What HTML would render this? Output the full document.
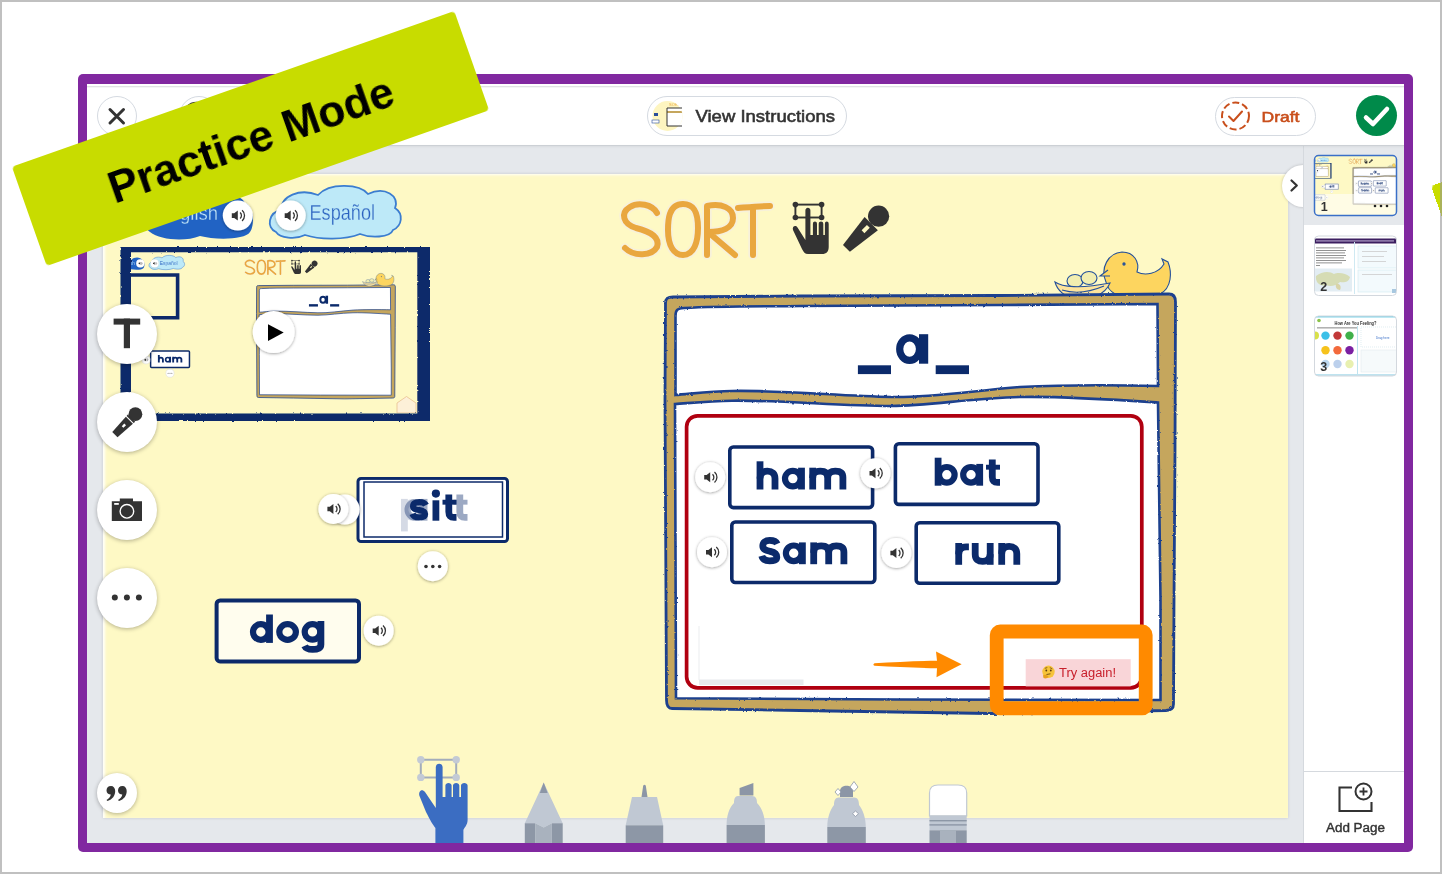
<!DOCTYPE html>
<html><head><meta charset="utf-8">
<style>
*{box-sizing:border-box;margin:0;padding:0}
html,body{width:1442px;height:874px;overflow:hidden;background:#fff;font-family:"Liberation Sans",sans-serif}
#outer{position:absolute;left:0;top:0;width:1442px;height:874px;border:2px solid rgba(150,150,150,0.6);z-index:10}
#frame{position:absolute;left:78px;top:74.3px;width:1335px;height:777.7px;background:#8128a0;border-radius:5px}
#header{position:absolute;left:87px;top:84px;width:1317px;height:61px;background:#fff;box-shadow:inset 0 2.2px 0 #fff, inset 0 3.2px 0 #d7d9db}
#work{position:absolute;left:87px;top:145px;width:1216px;height:698px;background:#e5e8ec}
#side{position:absolute;left:1303px;top:145px;width:101px;height:698px;background:#fff;border-left:1px solid #d5d9de}
#selbg{position:absolute;left:1304px;top:145px;width:100px;height:80px;background:#e5e8ec}
#addline{position:absolute;left:1304px;top:771px;width:100px;height:1px;background:#d5d9de}
#canvas{position:absolute;left:103px;top:174px;width:1185px;height:644px;background:#fef9c5;box-shadow:0 0 3px rgba(0,0,0,0.14), inset 2px 1px 3px rgba(255,255,255,0.95)}
.circ{position:absolute;border-radius:50%;background:#fff}
.pill{position:absolute;border:1px solid #d5dae1;border-radius:20px;background:#fff}
.tool{position:absolute;width:60px;height:60px;border-radius:50%;background:#fff;box-shadow:0 1px 4px rgba(0,0,0,0.3)}
#banner{position:absolute;left:16.3px;top:86.4px;width:469px;height:105px;background:#c8dc00;transform:rotate(-19.4deg);border-radius:4px;color:#000;font-weight:bold;font-size:44.2px;line-height:107px;text-align:center;will-change:transform}
svg{position:absolute;left:0;top:0;will-change:transform}
.thumb{position:absolute;width:82px;height:60px;border-radius:4px;overflow:hidden;background:#fff;border:1px solid #cfd5dc}
</style></head><body>
<div id="outer"></div>
<div id="frame"></div>
<div id="header"></div>
<div id="work"></div>
<div id="canvas"></div>
<div class="circ" style="left:1282px;top:165px;width:42px;height:42px;box-shadow:0 0 3px rgba(0,0,0,0.22)"></div>
<div id="side"></div>
<div id="selbg"></div>
<div id="addline"></div>
<div style="position:absolute;left:87px;top:144.5px;width:1317px;height:1.2px;background:#ccd0d5;box-shadow:0 1px 2px rgba(0,0,0,0.08)"></div>

<!-- header buttons -->
<div class="circ" style="left:97px;top:96px;width:40px;height:40px;border:1px solid #d5dae1"></div>
<div class="circ" style="left:179px;top:96px;width:40px;height:40px;border:1px solid #d5dae1"></div>
<div class="pill" style="left:647px;top:96px;width:200px;height:40px"></div>
<div class="pill" style="left:1215px;top:96.5px;width:101px;height:39px"></div>
<div class="circ" style="left:1356px;top:95px;width:41px;height:41px;background:#008a4a"></div>

<svg width="1442" height="874" viewBox="0 0 1442 874" id="hdr">
  <!-- X -->
  <path d="M110,109.5 L123.5,123 M123.5,109.5 L110,123" stroke="#333" stroke-width="3" stroke-linecap="round"/>
  <circle cx="196.5" cy="116.3" r="13.2" fill="none" stroke="#333" stroke-width="2.6"/>
  <!-- view instructions icon -->
  <circle cx="667.5" cy="116" r="15" fill="#fdf5c0"/>
  <clipPath id="vic"><circle cx="667.5" cy="116" r="15"/></clipPath><g clip-path="url(#vic)"><rect x="667" y="108" width="20" height="18" fill="#fff"/><rect x="667" y="111" width="20" height="2" fill="#c5a65d"/><text x="669" y="106" font-family="Liberation Sans" font-size="4" fill="#e9a73f">SORT</text></g><path d="M682,108 L667,108 L667,126 L682,126" stroke="#333" stroke-width="1" fill="none"/>
  <rect x="654" y="113" width="4" height="3" fill="#2a4d9b"/>
  <rect x="652" y="120" width="7" height="3" fill="#fff" stroke="#2a4d9b" stroke-width="0.6"/>
  <text x="695.5" y="121.5" font-family="Liberation Sans" font-size="16.5" fill="#333" stroke="#333" stroke-width="0.55" textLength="139.5" lengthAdjust="spacingAndGlyphs">View Instructions</text>
  <!-- draft -->
  <circle cx="1235.5" cy="116" r="13.5" fill="none" stroke="#c94f1c" stroke-width="2" stroke-dasharray="7 3"/>
  <path d="M1229,116.5 L1233.5,121 L1242,111.5" fill="none" stroke="#c94f1c" stroke-width="2" stroke-linecap="round" stroke-linejoin="round"/>
  <text x="1261.5" y="121.5" font-family="Liberation Sans" font-size="15.5" fill="#c94f1c" stroke="#c94f1c" stroke-width="0.6" textLength="38" lengthAdjust="spacingAndGlyphs">Draft</text>
  <!-- green check -->
  <path d="M1366,117.5 L1373,124 L1387,109" fill="none" stroke="#fff" stroke-width="4.5" stroke-linecap="round" stroke-linejoin="round"/>
  <!-- chevron -->
  <path d="M1291.5,180.5 L1296.8,185.5 L1291.5,190.5" fill="none" stroke="#333" stroke-width="2.2" stroke-linecap="round" stroke-linejoin="round"/>
  <!-- add page -->
  <path d="M1352,787.5 L1339.5,787.5 L1339.5,811 L1371.5,811 L1371.5,802" fill="none" stroke="#333" stroke-width="2.1"/>
  <circle cx="1363.5" cy="791.5" r="8" fill="none" stroke="#333" stroke-width="2"/>
  <path d="M1363.5,787.5 L1363.5,795.5 M1359.5,791.5 L1367.5,791.5" stroke="#333" stroke-width="1.8"/>
  <text x="1326" y="832" font-family="Liberation Sans" font-size="12.5" fill="#333" stroke="#333" stroke-width="0.4" textLength="59" lengthAdjust="spacingAndGlyphs">Add Page</text>
</svg>

<!-- thumbnails -->
<svg width="1442" height="874" viewBox="0 0 1442 874" id="thumbs">
  <defs>
    <clipPath id="c1"><rect x="1314.5" y="155.5" width="82" height="60" rx="4"/></clipPath>
    <clipPath id="c2"><rect x="1314.5" y="236" width="82" height="59.5" rx="4"/></clipPath>
    <clipPath id="c3"><rect x="1314.5" y="316" width="82" height="60" rx="4"/></clipPath>
  </defs>
  <g clip-path="url(#c1)">
    <rect x="1314" y="155" width="83" height="61" fill="#fef9c5"/>
    <use href="#g-canvas" transform="matrix(0.09,0,0,0.09,1292.8,140.7)"/>
    <rect x="1314" y="194" width="83" height="22" fill="#fff" opacity="0.55"/>
    <circle cx="1375" cy="206" r="1.3" fill="#222"/><circle cx="1381" cy="206" r="1.3" fill="#222"/><circle cx="1387" cy="206" r="1.3" fill="#222"/>
    <text x="1320.8" y="210.5" font-family="Liberation Sans" font-weight="bold" font-size="12.5" fill="#333">1</text>
  </g>
  <rect x="1314.5" y="155.5" width="82" height="60" rx="4" fill="none" stroke="#3a6fc8" stroke-width="1.5"/>

  <g clip-path="url(#c2)">
    <rect x="1314" y="236" width="83" height="60" fill="#fff"/>
    <rect x="1314" y="238.5" width="83" height="5" fill="#3c1f60"/>
    <rect x="1316" y="240.2" width="78" height="1.4" fill="#b8a8d0" opacity="0.8"/>
    <g fill="#777"><rect x="1316" y="247.5" width="28" height="0.8"/><rect x="1316" y="250" width="30" height="0.8"/><rect x="1316" y="252.5" width="29" height="0.8"/><rect x="1316" y="255" width="30" height="0.8"/><rect x="1316" y="257.5" width="28" height="0.8"/><rect x="1316" y="260" width="30" height="0.8"/><rect x="1316" y="262.5" width="26" height="0.8"/><rect x="1316" y="265" width="4" height="0.8"/></g>
    <rect x="1314" y="268.5" width="38" height="23" fill="#e3edf3"/>
    <path d="M1316,276 C1322,271 1330,271 1334,274 C1338,272 1346,273 1350,277 C1349,282 1344,283 1340,282 C1336,286 1330,287 1326,285 C1320,287 1315,282 1316,276 Z" fill="#d6dcb4"/>
    <path d="M1336,284 C1339,283 1342,286 1340,290 C1337,290 1335,287 1336,284 Z" fill="#d9d4a8"/>
    <rect x="1354" y="242" width="1" height="52" fill="#cfe9f2"/>
    <rect x="1358" y="246" width="39" height="22" fill="#f3fafd" stroke="#cfe9f2" stroke-width="0.6"/>
    <rect x="1358" y="270" width="39" height="22" fill="#f3fafd" stroke="#cfe9f2" stroke-width="0.6"/>
    <g fill="#ccc"><rect x="1362" y="251" width="25" height="0.8"/><rect x="1362" y="256" width="22" height="0.8"/><rect x="1362" y="261" width="24" height="0.8"/><rect x="1362" y="274" width="30" height="0.8"/></g>
    <rect x="1392" y="289" width="4" height="4" fill="#a8c8e0"/>
    <text x="1320.3" y="291" font-family="Liberation Sans" font-weight="bold" font-size="12.5" fill="#333">2</text>
  </g>
  <rect x="1314.5" y="236" width="82" height="59.5" rx="4" fill="none" stroke="#d3d8de" stroke-width="1"/>

  <g clip-path="url(#c3)">
    <rect x="1314" y="316" width="83" height="60" fill="#fff"/>
    <rect x="1314" y="316" width="83" height="1.5" fill="#7fd3e8"/>
    <circle cx="1319" cy="320.5" r="1.8" fill="#8bc34a"/>
    <text x="1355.5" y="325" font-family="Liberation Sans" font-weight="bold" font-size="5.4" fill="#333" text-anchor="middle" textLength="42" lengthAdjust="spacingAndGlyphs">How Are You Feeling?</text>
    <rect x="1317" y="327.5" width="40" height="0.8" fill="#666"/>
    <g>
      <circle cx="1315" cy="335.6" r="4" fill="#d8e04a"/><circle cx="1325.5" cy="335.6" r="4.2" fill="#3cc0e8"/><circle cx="1337.5" cy="335.6" r="4.2" fill="#c23838"/><circle cx="1349.5" cy="335.6" r="4.2" fill="#3fb04a"/>
      <circle cx="1325.5" cy="350.2" r="4.2" fill="#f6c21c"/><circle cx="1337.5" cy="350.2" r="4.2" fill="#f36a3c"/><circle cx="1349.5" cy="350.2" r="4.2" fill="#7b1fa2"/>
      <circle cx="1325.5" cy="364" r="4.2" fill="#bcd8f0"/><circle cx="1337.5" cy="364" r="4.2" fill="#bcd0ec"/><circle cx="1349.5" cy="364" r="4.2" fill="#e8f0b0"/>
    </g>
    <rect x="1357" y="326" width="1" height="48" fill="#bfe3ef"/>
    <rect x="1361" y="327" width="36" height="20" fill="#fff" stroke="#cfe3ea" stroke-width="0.6" stroke-dasharray="1 1"/>
    <text x="1376" y="339" font-family="Liberation Sans" font-size="3" fill="#3a6fc8">Drag here</text>
    <rect x="1361" y="350" width="36" height="22" fill="#f6fafb" stroke="#dde8ec" stroke-width="0.5"/>
    <rect x="1314" y="374" width="83" height="2" fill="#bfe3ef"/>
    <text x="1320.3" y="371" font-family="Liberation Sans" font-weight="bold" font-size="12.5" fill="#333">3</text>
  </g>
  <rect x="1314.5" y="316" width="82" height="60" rx="4" fill="none" stroke="#d3d8de" stroke-width="1"/>
</svg>

<svg width="1442" height="874" viewBox="0 0 1442 874" id="cv">
  <defs>
    <filter id="sh" x="-30%" y="-30%" width="160%" height="160%"><feDropShadow dx="0" dy="0.6" stdDeviation="1.5" flood-color="#000" flood-opacity="0.42"/></filter>
    <filter id="rough" x="-2%" y="-2%" width="104%" height="104%"><feTurbulence type="fractalNoise" baseFrequency="0.35" numOctaves="2" seed="3"/><feDisplacementMap in="SourceGraphic" scale="2.2"/></filter>
    <g id="spk"><path d="M-7,-2.3 L-4.6,-2.3 L-1,-5 L-1,5 L-4.6,2.3 L-7,2.3 Z" fill="#333"/><path d="M1.3,-3 A4,4 0 0 1 1.3,3" fill="none" stroke="#333" stroke-width="1.3"/><path d="M3.3,-5.3 A7,7 0 0 1 3.3,5.3" fill="none" stroke="#333" stroke-width="1.3"/></g>
  </defs>

  <g id="g-canvas">
  <g id="g-clouds">
  <!-- English cloud (dark) -->
  <path d="M150,232 C140,225 150,212 165,214 C168,200 190,196 205,203 C215,190 240,192 245,203 C254,206 255,226 250,232 C245,240 215,240 200,236 C185,242 160,240 150,232 Z" fill="#2163c4"/>
  <text x="180" y="220" font-family="Liberation Sans" font-size="21" fill="#bfe3f6" stroke="#2163c4" stroke-width="0.3" textLength="38" lengthAdjust="spacingAndGlyphs">glish</text>
  <!-- Espanol cloud -->
  <path d="M276,232 C266,228 268,212 282,210 C280,196 300,188 318,195 C330,182 360,184 368,194 C385,186 400,196 395,208 C404,214 402,226 393,230 C390,238 370,238 360,234 C345,240 320,240 305,235 C295,240 280,238 276,232 Z" fill="#bde9f8" stroke="#3b7dd0" stroke-width="1.8"/>
  <text x="309.5" y="220.3" font-family="Liberation Sans" font-size="22" fill="#2a62c0" stroke="#bde9f8" stroke-width="0.3" textLength="65.5" lengthAdjust="spacingAndGlyphs">Español</text>
  <circle cx="237.8" cy="215.6" r="15" fill="#fff" filter="url(#sh)"/><use href="#spk" x="238.8" y="215.6"/>
  <circle cx="290.7" cy="215.6" r="15" fill="#fff" filter="url(#sh)"/><use href="#spk" x="291.7" y="215.6"/>

  </g>
  <!-- mini card -->
  <clipPath id="miniclip"><rect x="131" y="252.2" width="286.3" height="161.3"/></clipPath>
  <g clip-path="url(#miniclip)">
    <rect x="130" y="251" width="288" height="163.5" fill="#fef9c5"/>
    <g transform="matrix(0.272,0,0,0.272,75.6,204.8)">
      <use href="#g-clouds"/>
      <use href="#g-sort"/>
      <use href="#g-frame" transform="translate(0,0)"/>
      <use href="#g-duck"/>
      <g transform="translate(-454,90.7)">
        <rect x="729.8" y="447" width="142.8" height="60.6" rx="3.5" fill="#fff" stroke="#0c2a6a" stroke-width="5.5"/>
        <g><path d="M3.4,-28.2 V0" transform="translate(756.6,489.5)" fill="none" stroke="#0b2a6b" stroke-width="6.8"/><path d="M3.4,-11 C3.4,-16.5 6.5,-18.4 10.9,-18.4 C15.5,-18.4 18.4,-16 18.4,-11 V0" transform="translate(756.6,489.5)" fill="none" stroke="#0b2a6b" stroke-width="6.8"/><path d="M3.1,-10.9 A7.8,7.8 0 1 0 18.7,-10.9 A7.8,7.8 0 1 0 3.1,-10.9 Z" transform="translate(781.9,489.5)" fill="none" stroke="#0b2a6b" stroke-width="6.2"/><path d="M19.6,-21.8 V0" transform="translate(781.9,489.5)" fill="none" stroke="#0b2a6b" stroke-width="6.8"/><path d="M3.4,-21.8 V0" transform="translate(809.3,489.5)" fill="none" stroke="#0b2a6b" stroke-width="6.8"/><path d="M3.4,-11.5 C3.4,-16.5 6,-18.4 10.9,-18.4 C15.5,-18.4 18.4,-16.5 18.4,-12 V0" transform="translate(809.3,489.5)" fill="none" stroke="#0b2a6b" stroke-width="6.8"/><path d="M18.4,-12 C18.4,-16.5 21.5,-18.4 26,-18.4 C31,-18.4 33.6,-16.5 33.6,-12 V0" transform="translate(809.3,489.5)" fill="none" stroke="#0b2a6b" stroke-width="6.8"/></g>
      </g>
      <circle cx="258.8" cy="569.9" r="15" fill="#fff" stroke="#ddd" stroke-width="2"/><use href="#spk" x="259.8" y="569.9"/>
      <circle cx="347" cy="619.2" r="15" fill="#fff" stroke="#ddd" stroke-width="2"/>
      <circle cx="340" cy="619.5" r="1.8" fill="#333"/><circle cx="347" cy="619.5" r="1.8" fill="#333"/><circle cx="354" cy="619.5" r="1.8" fill="#333"/>
    </g>
    <path d="M131,275 L177.6,275 L177.6,317.7 L131,317.7" fill="none" stroke="#0d2a6b" stroke-width="3.6"/>
    <path d="M397,413 L397,403 L406.5,396.5 L416,403 L416,413 Z" fill="#fdf0d8" stroke="#e8c090" stroke-width="0.8"/>
  </g>
  <path d="M120.5,247 H430 V421 H120.5 Z M131,252.2 V413.5 H417.3 V252.2 Z" fill="#0d2a6b" fill-rule="evenodd" filter="url(#rough)"/>
  <!-- play -->
  <circle cx="273.7" cy="332.1" r="21" fill="#fff" filter="url(#sh)"/>
  <path d="M268,324.3 L283.7,332.5 L268,341 Z" fill="#000"/>

  <g id="g-sort">
  <!-- SORT title -->
  <g fill="none" stroke="#f7f1da" stroke-width="9.5" stroke-linecap="round" stroke-linejoin="round">
    <path d="M657,213 C652,204 638,202 630,207 C620,213 623,224 636,228 C652,232 660,238 657,247 C652,256 634,257 625,248"/>
    <path d="M683,204 C668,204 668,222 668,230 C668,246 674,255 683,255 C694,255 698,242 698,228 C698,212 694,204 683,204 Z"/>
    <path d="M707,255 L707,206 C722,203 733,208 733,218 C733,228 722,232 708,232 L735,255"/>
    <path d="M738,208 C750,207 760,206 770,206 M753,207 L753,255"/>
  </g>
  <g fill="none" stroke="#e9a73f" stroke-width="6" stroke-linecap="round" stroke-linejoin="round">
    <path d="M657,213 C652,204 638,202 630,207 C620,213 623,224 636,228 C652,232 660,238 657,247 C652,256 634,257 625,248"/>
    <path d="M683,204 C668,204 668,222 668,230 C668,246 674,255 683,255 C694,255 698,242 698,228 C698,212 694,204 683,204 Z"/>
    <path d="M707,255 L707,206 C722,203 733,208 733,218 C733,228 722,232 708,232 L735,255"/>
    <path d="M738,208 C750,207 760,206 770,206 M753,207 L753,255"/>
  </g>
  <!-- hand icon w/ selection -->
  <g>
    <rect x="795.4" y="204.6" width="26.2" height="12.9" fill="none" stroke="#333" stroke-width="1.9"/>
    <circle cx="795.4" cy="204.6" r="2.8" fill="#333"/><circle cx="821.6" cy="204.6" r="2.8" fill="#333"/><circle cx="795.4" cy="217.5" r="2.8" fill="#333"/><circle cx="821.6" cy="217.5" r="2.8" fill="#333"/>
    <path d="M805.4,210.4 C805.4,207 810.4,207 810.4,210.4 L810.4,235 L812.9,235 L812.9,224 C812.9,220.8 817,220.8 817,224 L817,235 L818.7,235 L818.7,224 C818.7,220.8 823.3,220.8 823.3,224 L823.3,235 L824.9,235 L824.9,224 C824.9,220.8 828.7,220.8 828.7,224 L828.7,247 C828.7,251.5 826.5,254.1 822,254.1 L808,254.1 C805,254.1 803.5,252 802,249 L793,230 C791.8,226.5 795.5,224.5 797.5,227.5 L805.4,240 Z" fill="#333"/>
  </g>
  <!-- mic icon -->
  <g transform="translate(878.6,216.2) rotate(135)">
    <circle cx="0" cy="0" r="10.6" fill="#333"/>
    <path d="M10.4,-9.4 L45.5,-4.9 L45.5,4.9 L10.4,9.4 Z" fill="#333"/>
    <rect x="14.5" y="-2" width="7.5" height="4" fill="#fef9c5"/>
  </g>
  </g>
  <g id="g-duck">
  <!-- duck -->
  <g stroke="#23509b" stroke-width="1.1">
    <path d="M1106,282 C1100,268 1108,253 1122,252 C1134,252 1140,262 1137,272 C1145,276 1158,274 1164,264 L1162,259 L1168,262 C1172,272 1172,288 1160,294 C1148,300 1125,300 1115,294 C1110,291 1107,287 1106,282 Z" fill="#fdd55f"/>
    <circle cx="1124" cy="264" r="1.1" fill="#23509b"/>
    <path d="M1108,270 L1100,276 L1110,276" fill="#fdd55f"/>
    <ellipse cx="1075" cy="281" rx="8" ry="6.5" fill="#f2eeb0"/>
    <ellipse cx="1089" cy="278" rx="8" ry="6.5" fill="#f2eeb0"/>
    <path d="M1055,282 C1062,287 1080,289 1110,283 C1105,295 1090,300 1078,299 C1065,298 1057,290 1055,282 Z" fill="#fde39b"/>
    <path d="M1062,290 C1075,294 1090,292 1104,286" fill="none"/>
  </g>
  </g>
  <g id="g-frame"><g filter="url(#rough)">
  <!-- main frame -->
  <path d="M665.5,303 C665.5,298 668,297 673,297 L800,296 L1000,295.5 L1169,294 C1174,294 1175.5,297 1175.5,302 L1175,450 L1174,600 L1173.5,704 C1173.5,709 1171,710 1166,710.5 L990,713.5 L800,710.5 L672,708.5 C668,708.5 666.5,706 666.5,700 L665.5,500 L665,400 Z" fill="#c5a65d" stroke="#1d418e" stroke-width="2.8"/>
  <path d="M675.5,316 C675.5,310 677,308.5 684,308 C720,306 760,306.5 800,306 L1000,305 L1157.5,304 L1158,386 C1120,385 1060,385 1020,387 C970,391 930,398 891,397 C840,396 780,390 732,391 C710,391 690,394 675.5,395 Z" fill="#fff" stroke="#1d418e" stroke-width="2.6"/>
  <path d="M675,404 C690,403 710,401 732,400.7 C780,400 840,406 891,406 C930,406 970,398 1020,397 C1060,396 1120,400 1158,402.5 L1160.5,600 L1160.5,700 L900,699.5 L676,698.3 L675.5,550 Z" fill="#fff" stroke="#1d418e" stroke-width="2.6"/>
  </g><rect x="857.9" y="365.3" width="33.1" height="8.8" fill="#0b2a6b"/><rect x="935.7" y="365.3" width="33.3" height="8.8" fill="#0b2a6b"/>
  <ellipse cx="909.6" cy="349.1" rx="9.9" ry="11.3" fill="none" stroke="#0b2a6b" stroke-width="7.2"/><rect x="919" y="334.2" width="9.2" height="29.5" fill="#0b2a6b"/>

  </g>
  <!-- red box -->
  <rect x="686.8" y="415.5" width="455.2" height="271.5" rx="11" fill="#fff"/>
  <rect x="699" y="679.5" width="104.5" height="5.5" fill="#e8eaed"/>
  <rect x="698.5" y="626" width="1" height="54" fill="#eceef0"/>

  <!-- word cards -->
  <g fill="#fff" stroke="#0c2a6a" stroke-width="3.6">
    <rect x="729.8" y="447" width="142.8" height="60.6" rx="3.5"/>
    <rect x="895.4" y="443.8" width="142.6" height="60.6" rx="3.5"/>
    <rect x="731.8" y="522" width="143" height="60.5" rx="3.5"/>
    <rect x="916.2" y="522.8" width="142.6" height="60.5" rx="3.5"/>
  </g>
  <g><path d="M3.4,-28.2 V0" transform="translate(756.6,489.5)" fill="none" stroke="#0b2a6b" stroke-width="6.8"/><path d="M3.4,-11 C3.4,-16.5 6.5,-18.4 10.9,-18.4 C15.5,-18.4 18.4,-16 18.4,-11 V0" transform="translate(756.6,489.5)" fill="none" stroke="#0b2a6b" stroke-width="6.8"/><path d="M3.1,-10.9 A7.8,7.8 0 1 0 18.7,-10.9 A7.8,7.8 0 1 0 3.1,-10.9 Z" transform="translate(781.9,489.5)" fill="none" stroke="#0b2a6b" stroke-width="6.2"/><path d="M19.6,-21.8 V0" transform="translate(781.9,489.5)" fill="none" stroke="#0b2a6b" stroke-width="6.8"/><path d="M3.4,-21.8 V0" transform="translate(809.3,489.5)" fill="none" stroke="#0b2a6b" stroke-width="6.8"/><path d="M3.4,-11.5 C3.4,-16.5 6,-18.4 10.9,-18.4 C15.5,-18.4 18.4,-16.5 18.4,-12 V0" transform="translate(809.3,489.5)" fill="none" stroke="#0b2a6b" stroke-width="6.8"/><path d="M18.4,-12 C18.4,-16.5 21.5,-18.4 26,-18.4 C31,-18.4 33.6,-16.5 33.6,-12 V0" transform="translate(809.3,489.5)" fill="none" stroke="#0b2a6b" stroke-width="6.8"/></g>
  <g><path d="M4.3,-10.9 A7.8,7.8 0 1 0 19.9,-10.9 A7.8,7.8 0 1 0 4.3,-10.9 Z" transform="translate(934.7,485.7)" fill="none" stroke="#0b2a6b" stroke-width="6.2"/><path d="M3.4,-28 V0" transform="translate(934.7,485.7)" fill="none" stroke="#0b2a6b" stroke-width="6.8"/><path d="M3.1,-10.9 A7.8,7.8 0 1 0 18.7,-10.9 A7.8,7.8 0 1 0 3.1,-10.9 Z" transform="translate(960.1,485.7)" fill="none" stroke="#0b2a6b" stroke-width="6.2"/><path d="M19.6,-21.8 V0" transform="translate(960.1,485.7)" fill="none" stroke="#0b2a6b" stroke-width="6.8"/><path d="M6.3,-26.3 V-9 C6.3,-4.8 8,-3.4 11.5,-3.4 H14" transform="translate(986,485.7)" fill="none" stroke="#0b2a6b" stroke-width="6.8"/><path d="M0,-18.5 H14" transform="translate(986,485.7)" fill="none" stroke="#0b2a6b" stroke-width="4.9"/></g>
  <g><path d="M18,-20.3 C16.8,-22.9 14,-23.8 10.5,-23.8 C6.2,-23.8 3.6,-21.8 3.6,-18.3 C3.6,-14.5 7,-13.8 11,-12.8 C15.3,-11.8 17.6,-10.4 17.6,-7 C17.6,-4 14.6,-3.3 10.5,-3.3 C6.5,-3.3 3.5,-4.8 2.6,-8.3" transform="translate(759.2,564.2)" fill="none" stroke="#0b2a6b" stroke-width="6.8"/><path d="M3.1,-10.9 A7.8,7.8 0 1 0 18.7,-10.9 A7.8,7.8 0 1 0 3.1,-10.9 Z" transform="translate(782.8,564.2)" fill="none" stroke="#0b2a6b" stroke-width="6.2"/><path d="M19.6,-21.8 V0" transform="translate(782.8,564.2)" fill="none" stroke="#0b2a6b" stroke-width="6.8"/><path d="M3.4,-21.8 V0" transform="translate(810.3,564.2)" fill="none" stroke="#0b2a6b" stroke-width="6.8"/><path d="M3.4,-11.5 C3.4,-16.5 6,-18.4 10.9,-18.4 C15.5,-18.4 18.4,-16.5 18.4,-12 V0" transform="translate(810.3,564.2)" fill="none" stroke="#0b2a6b" stroke-width="6.8"/><path d="M18.4,-12 C18.4,-16.5 21.5,-18.4 26,-18.4 C31,-18.4 33.6,-16.5 33.6,-12 V0" transform="translate(810.3,564.2)" fill="none" stroke="#0b2a6b" stroke-width="6.8"/></g>
  <g><path d="M3.4,-21.8 V0" transform="translate(955.3,564.8)" fill="none" stroke="#0b2a6b" stroke-width="6.8"/><path d="M3.4,-10.5 C3.4,-16 6.5,-17.9 11,-17.9 H13.6" transform="translate(955.3,564.8)" fill="none" stroke="#0b2a6b" stroke-width="6.8"/><path d="M3.4,-21.8 V-10.5 C3.4,-5 6.5,-3.4 10.9,-3.4 C15.5,-3.4 18.4,-5.5 18.4,-10.5" transform="translate(971.8,564.8)" fill="none" stroke="#0b2a6b" stroke-width="6.8"/><path d="M18.4,-21.8 V0" transform="translate(971.8,564.8)" fill="none" stroke="#0b2a6b" stroke-width="6.8"/><path d="M3.4,-21.8 V0" transform="translate(998.3,564.8)" fill="none" stroke="#0b2a6b" stroke-width="6.8"/><path d="M3.4,-11 C3.4,-16.5 6.5,-18.4 10.9,-18.4 C15.5,-18.4 18.5,-16 18.5,-11 V0" transform="translate(998.3,564.8)" fill="none" stroke="#0b2a6b" stroke-width="6.8"/></g>
  <circle cx="710.2" cy="477.2" r="15" fill="#fff" filter="url(#sh)"/><use href="#spk" x="711.2" y="477.2"/>
  <circle cx="875.5" cy="473.3" r="15" fill="#fff" filter="url(#sh)"/><use href="#spk" x="876.5" y="473.3"/>
  <circle cx="712" cy="552.2" r="15" fill="#fff" filter="url(#sh)"/><use href="#spk" x="713" y="552.2"/>
  <circle cx="896.4" cy="553" r="15" fill="#fff" filter="url(#sh)"/><use href="#spk" x="897.4" y="553"/>

  <!-- sit card stack -->
  <rect x="358" y="478.5" width="149.5" height="63" rx="3" fill="#fff" stroke="#0c2a6a" stroke-width="3"/>
  <rect x="361.5" y="480.5" width="143" height="58.5" fill="none" stroke="#fff" stroke-width="1.2"/>
  <rect x="364" y="482" width="138.5" height="55" fill="none" stroke="#0c2a6a" stroke-width="1.5"/>
  <g opacity="0.17"><path d="M4.3,-10.9 A7.8,7.8 0 1 0 19.9,-10.9 A7.8,7.8 0 1 0 4.3,-10.9 Z" transform="translate(401,520.7)" fill="none" stroke="#0b2a6b" stroke-width="6.2"/><path d="M3.4,-21.8 V10.7" transform="translate(401,520.7)" fill="none" stroke="#0b2a6b" stroke-width="6.8"/></g><g opacity="0.38"><path d="M3.1,-10.9 A7.8,7.8 0 1 0 18.7,-10.9 A7.8,7.8 0 1 0 3.1,-10.9 Z" transform="translate(404.5,520.7)" fill="none" stroke="#0b2a6b" stroke-width="6.2"/><path d="M19.6,-21.8 V0" transform="translate(404.5,520.7)" fill="none" stroke="#0b2a6b" stroke-width="6.8"/></g><g opacity="0.4"><path d="M6.3,-26.3 V-9 C6.3,-4.8 8,-3.4 11.5,-3.4 H14" transform="translate(453.5,520.7)" fill="none" stroke="#0b2a6b" stroke-width="6.8"/><path d="M0,-18.5 H14" transform="translate(453.5,520.7)" fill="none" stroke="#0b2a6b" stroke-width="4.9"/></g>
  <g><path d="M16.2,-15.6 C15,-18 12.5,-18.6 9.5,-18.6 C5.8,-18.6 3.3,-17.2 3.3,-14.5 C3.3,-11.6 6,-11.2 9.5,-10.6 C13.2,-10 15.3,-9.2 15.3,-6.6 C15.3,-4.3 13,-3.2 9.3,-3.2 C6,-3.2 3.6,-4.3 2.6,-6.9" transform="translate(409.8,520.7)" fill="none" stroke="#0b2a6b" stroke-width="6.2"/><path d="M3.5,-20.4 V0" transform="translate(432.4,520.7)" fill="none" stroke="#0b2a6b" stroke-width="6.8"/><path d="M3.5,-27.1 m-4.1,0 a4.1,4.1 0 1 0 8.2,0 a4.1,4.1 0 1 0 -8.2,0" transform="translate(432.4,520.7)" fill="#0b2a6b"/><path d="M6.3,-26.3 V-9 C6.3,-4.8 8,-3.4 11.5,-3.4 H14" transform="translate(442.5,520.7)" fill="none" stroke="#0b2a6b" stroke-width="6.8"/><path d="M0,-18.5 H14" transform="translate(442.5,520.7)" fill="none" stroke="#0b2a6b" stroke-width="4.9"/></g>
  <circle cx="344.7" cy="509.6" r="15" fill="#fff" filter="url(#sh)"/>
  <circle cx="333.4" cy="509" r="15" fill="#fff" filter="url(#sh)"/><use href="#spk" x="334.4" y="509"/>
  <circle cx="432.8" cy="566.2" r="15" fill="#fff" filter="url(#sh)"/>
  <circle cx="426" cy="566.5" r="1.8" fill="#333"/><circle cx="432.8" cy="566.5" r="1.8" fill="#333"/><circle cx="439.6" cy="566.5" r="1.8" fill="#333"/>

  <!-- dog card -->
  <rect x="216.6" y="600.4" width="142.4" height="61" rx="3.5" fill="#fffdee" stroke="#0c2a6a" stroke-width="4"/>
  <g><path d="M3.1,-10.9 A7.8,7.8 0 1 0 18.7,-10.9 A7.8,7.8 0 1 0 3.1,-10.9 Z" transform="translate(249.9,642.9)" fill="none" stroke="#0b2a6b" stroke-width="6.2"/><path d="M19.6,-28.4 V0" transform="translate(249.9,642.9)" fill="none" stroke="#0b2a6b" stroke-width="6.8"/><path d="M3.1,-10.9 A8.3,7.8 0 1 0 19.7,-10.9 A8.3,7.8 0 1 0 3.1,-10.9 Z" transform="translate(276.2,642.9)" fill="none" stroke="#0b2a6b" stroke-width="6.2"/><path d="M3.1,-11 A7.8,7.8 0 1 0 18.7,-11 A7.8,7.8 0 1 0 3.1,-11 Z" transform="translate(301.6,642.9)" fill="none" stroke="#0b2a6b" stroke-width="6.2"/><path d="M19.3,-21.8 V1.5 C19.3,5 16.5,6.5 11,6.5 C6.5,6.5 4,5.2 3,3" transform="translate(301.6,642.9)" fill="none" stroke="#0b2a6b" stroke-width="6.8"/></g>
  <circle cx="378.7" cy="630.7" r="15" fill="#fff" filter="url(#sh)"/><use href="#spk" x="379.7" y="630.7"/>

  </g>
  <rect x="686.6" y="415.8" width="455.2" height="272" rx="11" fill="none" stroke="#b00010" stroke-width="3.7"/>
  <!-- arrow -->
  <path d="M874.5,663.2 C895,662 918,661 937,660.8 L936,651.6 L961.6,664.2 L936.5,677.2 L937,668.2 C918,667.8 895,667 874.5,665.8 C873,665 873,664 874.5,663.2 Z" fill="#ff8a00"/>
  <!-- try again -->
  <rect x="1025.7" y="659.2" width="105" height="27.2" fill="#f9d5d8"/>
  <circle cx="1048.5" cy="671.8" r="6.2" fill="#f6c33a"/><circle cx="1046.3" cy="670.5" r="0.9" fill="#5a3a10"/><circle cx="1050.8" cy="670.5" r="0.9" fill="#5a3a10"/><path d="M1044.8,668.3 L1047.3,667.6 M1049.8,667.6 L1052.3,668.8" stroke="#5a3a10" stroke-width="0.7"/><path d="M1046.5,674.5 L1050.5,673.8" stroke="#5a3a10" stroke-width="0.8"/><path d="M1043,675.5 C1044,674 1047,674.5 1048.5,676.5 C1048,678.5 1045,679 1043.5,678 Z" fill="#e8a020"/>
  <text x="1059" y="677" font-family="Liberation Sans" font-size="12.5" fill="#c8202c" textLength="57" lengthAdjust="spacingAndGlyphs">Try again!</text>
  <rect x="996.7" y="631.5" width="149" height="76.8" rx="3.5" fill="none" stroke="#ff8a00" stroke-width="13.8"/>

  
  <!-- bottom tools -->
  <g>
    <!-- hand -->
    <path d="M420.8,759.8 L456.2,759.8 L456.2,777.4 L420.8,777.4 Z" fill="none" stroke="#a3adbb" stroke-width="2"/>
    <circle cx="420.8" cy="759.8" r="3.7" fill="#c3cad5"/><circle cx="456.2" cy="759.8" r="3.7" fill="#c3cad5"/><circle cx="420.8" cy="777.4" r="3.7" fill="#c3cad5"/><circle cx="456.2" cy="777.4" r="3.7" fill="#c3cad5"/>
    <path d="M435.8,767 C435.8,762.5 442.6,762.5 442.6,767 L442.6,797 L445.4,797 L445.4,785.5 C445.4,782 451.6,782 451.6,785.5 L451.6,797 L453,797 L453,785.5 C453,782 459.3,782 459.3,785.5 L459.3,797 L461,797 L461,785.5 C461,782 467.6,782 467.6,785.5 L467.6,820 C467.6,825 464,828 463.4,830 L463.4,843 L435.4,843 L435.4,828 C433,825 430,820 426,812 L419.5,796 C418,791 422,788 425,792 L435.8,808 Z" fill="#3b6dc2"/>
    <!-- pencil -->
    <path d="M543.7,782.6 L562.7,823.2 L551.9,823.2 L543.7,827.4 L535.2,823.2 L524.8,823.2 Z" fill="#c0c8d3"/>
    <path d="M543.7,782.6 L547.6,793 L539.8,793 Z" fill="#8c96a6"/>
    <path d="M524.8,823.2 L535.2,823.2 L535.2,843 L524.8,843 Z M551.9,823.2 L562.7,823.2 L562.7,843 L551.9,843 Z" fill="#8d97a6"/>
    <path d="M535.2,823.2 L543.7,827.4 L551.9,823.2 L551.9,843 L535.2,843 Z" fill="#a9b2be"/>
    <!-- pen -->
    <path d="M643,787 C643,784 646,784 646,787 L647.5,797 L641.5,797 Z" fill="#8c96a6"/>
    <path d="M632,797 L657,797 L663.2,825.3 L625.7,825.3 Z" fill="#c0c8d3"/>
    <rect x="625.7" y="825.3" width="37.5" height="17.7" fill="#8d97a6"/>
    <!-- highlighter -->
    <path d="M739.6,788 L753.4,783 L753.4,795.5 L739.6,795.5 Z" fill="#8c96a6"/>
    <path d="M738,796 L752,796 C756,796 757,799 757,803 C762,808 764.9,816 764.9,825 L726.6,825 C726.6,816 729,808 734,803 C734,799 735,796 738,796 Z" fill="#c0c8d3"/>
    <rect x="726.6" y="825" width="38.3" height="18" fill="#8d97a6"/>
    <!-- glitter -->
    <path d="M840,797 L840,791 C840,784 853,784 853,791 L853,797 Z" fill="#8c96a6"/>
    <path d="M839,797.5 L854,797.5 C858,797.5 859,801 859,805 C863,810 865.8,818 865.8,827 L827.3,827 C827.3,818 830,810 834,805 C834,801 835,797.5 839,797.5 Z" fill="#c0c8d3"/>
    <rect x="827.3" y="827" width="38.5" height="16" fill="#8d97a6"/>
    <path d="M838,788.5 L841,792 L838,795.5 L835,792 Z M854,781.5 L858,787 L854,791.5 L850,787 Z M855.5,811 L858.5,813.7 L855.5,816.5 L852.5,813.7 Z" fill="#fff" stroke="#8c96a6" stroke-width="0.8"/>
    <!-- eraser -->
    <path d="M929.5,815.8 L929.5,793 C929.5,787 933,785 938,785 L958,785 C963,785 966.7,787 966.7,793 L966.7,815.8 Z" fill="#fff" stroke="#c0c8d3" stroke-width="1.2"/>
    <rect x="929.5" y="815.8" width="37.2" height="14.5" fill="#c0c8d3"/>
    <rect x="929.5" y="820" width="37.2" height="1.4" fill="#8d97a6"/>
    <rect x="929.5" y="824.2" width="37.2" height="1.4" fill="#8d97a6"/>
    <rect x="929.5" y="830.3" width="37.2" height="12.7" fill="#8d97a6"/>
    <rect x="940" y="830.3" width="16" height="12.7" fill="#a9b2be"/>
  </g>
</svg>

<!-- left tools -->
<div class="tool" style="left:97px;top:304px"></div>
<div class="tool" style="left:97px;top:392px"></div>
<div class="tool" style="left:97px;top:480px"></div>
<div class="tool" style="left:97px;top:568px"></div>
<div class="circ" style="left:97px;top:773px;width:40px;height:40px;box-shadow:0 1px 4px rgba(0,0,0,0.3)"></div>

<svg width="1442" height="874" viewBox="0 0 1442 874" id="toolicons">
  <!-- T -->
  <rect x="113.6" y="318.6" width="26.6" height="6" fill="#333"/>
  <rect x="123.8" y="318.6" width="6.2" height="29.6" fill="#333"/>
  <!-- mic -->
  <g transform="translate(135.4,414.2) rotate(135)">
    <circle cx="0" cy="0" r="6.9" fill="#333"/>
    <path d="M5.5,-5.2 L29,-3.7 L29,3.7 L5.5,5.2 Z" fill="#333"/>
    <path d="M8,-6 V6" stroke="#fff" stroke-width="1.1"/>
    <rect x="14.5" y="-1.2" width="3.6" height="2.4" fill="#fff"/>
  </g>
  <!-- camera -->
  <path d="M111.8,501.2 L119.8,501.2 L119.8,498.4 L133,498.4 L133,501.2 L142,501.2 L142,521 L111.8,521 Z" fill="#333"/>
  <circle cx="126.9" cy="511.3" r="6.8" fill="none" stroke="#fff" stroke-width="1.4"/>
  <rect x="114.2" y="503" width="4.6" height="1.8" fill="#fff"/>
  <!-- dots -->
  <circle cx="114.8" cy="597.6" r="3" fill="#333"/><circle cx="126.9" cy="597.6" r="3" fill="#333"/><circle cx="138.9" cy="597.6" r="3" fill="#333"/>
  <!-- quote -->
  <path d="M111,786 C108,786 106.5,788 106.5,790.5 C106.5,793 108.5,794.5 110.8,794.5 C110.5,797 108.5,799 106.5,800 L107.5,801 C112.5,799.5 115.2,795.5 115.2,791 C115.2,788 113.5,786 111,786 Z M122.5,786 C119.5,786 118,788 118,790.5 C118,793 120,794.5 122.3,794.5 C122,797 120,799 118,800 L119,801 C124,799.5 126.7,795.5 126.7,791 C126.7,788 125,786 122.5,786 Z" fill="#333"/>
</svg>
<div id="banner2" style="position:absolute;left:1431px;top:186px;width:100px;height:104px;background:#c8dc00;transform-origin:0 0;transform:rotate(-19.4deg);border-radius:4px"></div>
<div id="banner">Practice Mode</div>
</body></html>
